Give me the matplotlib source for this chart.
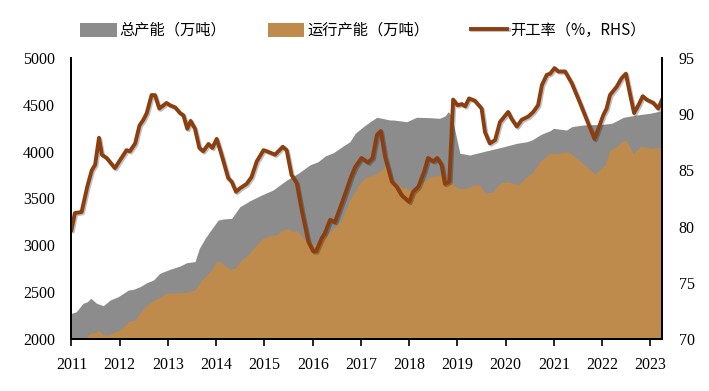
import matplotlib
matplotlib.use("Agg")
import matplotlib.pyplot as plt
import matplotlib.patheffects as pe
import numpy as np

plt.rcParams['font.family'] = ['Liberation Serif', 'Noto Sans CJK SC']

## Data (decimal year, value)
total_x = [2011.00, 2011.10, 2011.24, 2011.33, 2011.40, 2011.52, 2011.66, 2011.80, 2011.97,
           2012.18, 2012.28, 2012.42, 2012.56, 2012.70, 2012.83, 2013.04, 2013.25, 2013.39,
           2013.56, 2013.65, 2013.77, 2013.94, 2014.04, 2014.15, 2014.32, 2014.49, 2014.70,
           2014.94, 2015.18, 2015.46, 2015.70, 2015.94, 2016.11, 2016.26, 2016.43, 2016.63,
           2016.77, 2016.88, 2017.05, 2017.19, 2017.33, 2017.60, 2017.67, 2017.95, 2018.15,
           2018.42, 2018.63, 2018.74, 2018.81, 2018.88, 2019.05, 2019.26, 2019.40, 2019.68,
           2019.96, 2020.23, 2020.44, 2020.54, 2020.71, 2020.81, 2020.92, 2020.99, 2021.26,
           2021.37, 2021.61, 2022.02, 2022.20, 2022.44, 2022.71, 2022.99, 2023.24]
total_v = [2274, 2291, 2381, 2398, 2435, 2381, 2356, 2416, 2452,
           2523, 2530, 2558, 2601, 2630, 2701, 2744, 2779, 2815,
           2826, 2968, 3075, 3199, 3270, 3281, 3288, 3412, 3476,
           3537, 3591, 3697, 3769, 3858, 3893, 3954, 3989, 4060,
           4106, 4196, 4267, 4320, 4367, 4338, 4338, 4320, 4367,
           4363, 4356, 4381, 4427, 4381, 3983, 3964, 3983, 4018,
           4053, 4089, 4106, 4124, 4178, 4202, 4224, 4249, 4231,
           4267, 4285, 4292, 4303, 4367, 4391, 4410, 4437]

run_x = [2011.00, 2011.30, 2011.38, 2011.49, 2011.58, 2011.66, 2011.76, 2011.87, 2012.01,
         2012.18, 2012.32, 2012.49, 2012.66, 2012.80, 2012.97, 2013.18, 2013.39, 2013.56,
         2013.70, 2013.91, 2014.01, 2014.11, 2014.28, 2014.39, 2014.49, 2014.66, 2014.80,
         2014.97, 2015.15, 2015.25, 2015.36, 2015.48, 2015.58, 2015.67, 2015.84, 2016.05,
         2016.26, 2016.43, 2016.60, 2016.77, 2016.97, 2017.08, 2017.26, 2017.39, 2017.50,
         2017.60, 2017.70, 2017.84, 2017.98, 2018.08, 2018.29, 2018.43, 2018.64, 2018.85,
         2018.91, 2019.05, 2019.19, 2019.33, 2019.46, 2019.57, 2019.74, 2019.88, 2020.02,
         2020.16, 2020.26, 2020.40, 2020.54, 2020.71, 2020.92, 2021.06, 2021.30, 2021.47,
         2021.68, 2021.85, 2022.06, 2022.16, 2022.30, 2022.40, 2022.49, 2022.64, 2022.81,
         2022.99, 2023.20, 2023.24]
run_v = [2010, 2012, 2060, 2068, 2096, 2043, 2043, 2068, 2096,
         2185, 2203, 2327, 2398, 2434, 2488, 2494, 2498, 2523,
         2630, 2737, 2836, 2815, 2744, 2755, 2826, 2897, 2986,
         3075, 3110, 3110, 3156, 3181, 3145, 3156, 3057, 3004,
         3092, 3181, 3270, 3484, 3662, 3716, 3751, 3786, 3847,
         3786, 3679, 3626, 3598, 3591, 3679, 3733, 3751, 3716,
         3644, 3601, 3609, 3644, 3644, 3555, 3573, 3662, 3679,
         3662, 3644, 3716, 3769, 3893, 3983, 3975, 4000, 3929,
         3839, 3762, 3858, 4018, 4053, 4106, 4124, 3983, 4060,
         4036, 4046, 4071]

rate_x = [2011.00, 2011.07, 2011.21, 2011.33, 2011.42, 2011.49, 2011.57, 2011.63, 2011.73,
          2011.90, 2012.14, 2012.21, 2012.32, 2012.41, 2012.49, 2012.56, 2012.66, 2012.73,
          2012.82, 2012.97, 2013.04, 2013.15, 2013.25, 2013.32, 2013.40, 2013.47, 2013.56,
          2013.65, 2013.73, 2013.84, 2013.92, 2014.01, 2014.11, 2014.25, 2014.32, 2014.41,
          2014.49, 2014.63, 2014.73, 2014.84, 2014.98, 2015.05, 2015.22, 2015.38, 2015.46,
          2015.56, 2015.67, 2015.77, 2015.91, 2016.01, 2016.07, 2016.19, 2016.25, 2016.36,
          2016.46, 2016.63, 2016.81, 2016.88, 2017.01, 2017.15, 2017.24, 2017.33, 2017.41,
          2017.50, 2017.64, 2017.74, 2017.84, 2018.00, 2018.08, 2018.19, 2018.31, 2018.39,
          2018.50, 2018.58, 2018.67, 2018.74, 2018.83, 2018.91, 2019.00, 2019.09, 2019.16,
          2019.24, 2019.36, 2019.50, 2019.57, 2019.67, 2019.78, 2019.88, 2020.05, 2020.12,
          2020.23, 2020.33, 2020.47, 2020.57, 2020.67, 2020.75, 2020.85, 2020.92, 2021.01,
          2021.09, 2021.23, 2021.37, 2021.54, 2021.68, 2021.84, 2021.92, 2022.02, 2022.09,
          2022.16, 2022.30, 2022.40, 2022.49, 2022.57, 2022.66, 2022.75, 2022.84, 2022.92,
          2023.06, 2023.16, 2023.24]
rate_v = [79.7, 81.2, 81.3, 83.6, 85.0, 85.5, 87.9, 86.4, 86.1,
          85.2, 86.8, 86.7, 87.4, 89.0, 89.5, 90.1, 91.7, 91.7,
          90.5, 91.0, 90.8, 90.6, 90.1, 89.9, 88.7, 89.4, 88.7,
          87.0, 86.7, 87.35, 87.0, 87.8, 86.4, 84.3, 84.0, 83.1,
          83.4, 83.8, 84.4, 85.8, 86.8, 86.7, 86.4, 87.1, 86.8,
          84.6, 83.85, 81.5, 78.65, 77.8, 77.8, 79.0, 79.4, 80.6,
          80.4, 82.4, 84.6, 85.3, 86.1, 85.7, 86.1, 88.15, 88.5,
          86.2, 84.0, 83.55, 82.8, 82.2, 83.1, 83.55, 84.9, 86.1,
          85.8, 86.1, 85.5, 83.8, 84.0, 91.3, 90.8, 90.9, 90.7,
          91.4, 91.2, 90.5, 88.4, 87.4, 87.7, 89.3, 90.2, 89.6,
          88.9, 89.5, 89.8, 90.2, 90.8, 92.6, 93.5, 93.6, 94.1,
          93.8, 93.8, 92.75, 91.0, 89.5, 87.8, 88.7, 89.9, 90.5,
          91.7, 92.45, 93.2, 93.6, 91.9, 90.1, 90.8, 91.6, 91.3,
          91.0, 90.5, 91.3]

years = list(range(2011, 2024))

grey = '#8c8c8c'
tan = '#bf8b4c'
brown = '#8b3f10'

## Plotting
fig = plt.figure(figsize=(7.09, 3.91), dpi=100)
ax = fig.add_axes([0.1008, 0.133, 0.8330, 0.7187])
ax2 = ax.twinx()

ax.fill_between(total_x, 2000, total_v, color=grey, lw=0, label='总产能（万吨）')
ax.fill_between(run_x, 2000, run_v, color=tan, lw=0, label='运行产能（万吨）')
ax2.plot(rate_x, rate_v, color=brown, lw=2.8, solid_joinstyle='round',
         label='开工率（%，RHS）',
         path_effects=[pe.SimpleLineShadow(offset=(1, -1), alpha=0.25), pe.Normal()])

ax.set_xlim(2011, 2023.24)
ax.set_ylim(2000, 5000)
ax2.set_ylim(70, 95)
ax.set_xticks(years)
ax.set_yticks(np.arange(2000, 5001, 500))
ax2.set_yticks(np.arange(70, 96, 5))

ax.spines['top'].set_visible(False)
ax2.spines['top'].set_visible(False)
for sp in ['left', 'bottom', 'right']:
    ax2.spines[sp].set_linewidth(1.3)
    ax.spines[sp].set_linewidth(1.3)

ax.tick_params(axis='x', direction='out', length=5, width=1.2, labelsize=11.5, pad=8)
ax.tick_params(axis='y', length=0, labelsize=11.5, pad=12)
ax2.tick_params(axis='y', length=0, labelsize=11.5, pad=12)

h1, l1 = ax.get_legend_handles_labels()
h2, l2 = ax2.get_legend_handles_labels()
fig.legend(h1 + h2, l1 + l2, loc='center', bbox_to_anchor=(0.512, 0.922), ncol=3,
           frameon=False, prop={'family': ['Noto Sans CJK SC'], 'size': 11},
           handlelength=2.4, handleheight=1.0, handletextpad=0.2, columnspacing=2.7)

plt.savefig('out.png', dpi=100)
